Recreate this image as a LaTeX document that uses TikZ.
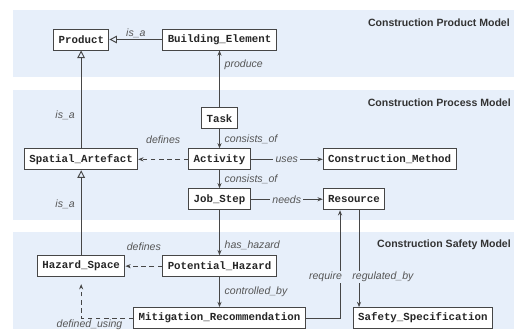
\documentclass[tikz,border=0pt]{standalone}
\usepackage{fontspec}
\newfontfamily\codefont{Liberation Mono}
\newfontfamily\labelfont{Liberation Sans}
\usetikzlibrary{arrows.meta, positioning}
\definecolor{bandblue}{RGB}{231,239,250}
\definecolor{linegray}{RGB}{70,70,70}
\definecolor{labelgray}{RGB}{85,85,85}
\tikzstyle{block} = [rectangle, draw=linegray, line width=0.8pt, fill=white, text=black!85, font=\codefont\bfseries\fontsize{9.2pt}{11pt}\selectfont, inner xsep=4.2pt, inner ysep=0pt, minimum height=17.9pt]
\tikzstyle{rel}  = [line width=0.8pt, linegray, -{Stealth[length=4.5pt, width=3.5pt]}]
\tikzstyle{dep}  = [rel, dash pattern=on 4pt off 3pt]
\tikzstyle{isa}  = [line width=0.8pt, linegray, -{Triangle[open, length=6.5pt, width=6.5pt]}]
\tikzstyle{lbl}  = [text=labelgray, font=\labelfont\itshape\fontsize{9pt}{10pt}\selectfont, inner sep=1pt]
\tikzstyle{onlbl} = [lbl, fill=bandblue, inner xsep=2pt]
\tikzstyle{band} = [fill=bandblue, draw=none]
\tikzstyle{title} = [anchor=east, text=black!80, font=\labelfont\bfseries\fontsize{9pt}{10pt}\selectfont, inner sep=0pt]

\begin{document}
\begin{tikzpicture}[x=0.03cm, y=-0.03cm]

	\useasboundingbox (0,0) rectangle (514,329);

	% Model bands
	\fill[band] (13,10) rectangle (514,77);
	\fill[band] (13,90) rectangle (514,220);
	\fill[band] (13,232) rectangle (514,329);

	\node (product_title) [title] at (510,23) {Construction Product Model};
	\node (process_title) [title] at (511,103) {Construction Process Model};
	\node (safety_title)  [title] at (511,245) {Construction Safety Model};

	% Product model
	\node (building) [block] at (219.5,39.5) {Building\_Element};
	\node (product)  [block, left=1.59cm of building] {Product};

	% Process model
	\node (task)     [block, below=1.71cm of building] {Task};
	\node (activity) [block, below=0.57cm of task] {Activity};
	\node (spatial)  [block, left=1.5cm of activity] {Spatial\_Artefact};
	\node (method)   [block, right=2.16cm of activity] {Construction\_Method};
	\node (jobstep)  [block, below=0.54cm of activity] {Job\_Step};
	\node (resource) [block, right=2.16cm of jobstep] {Resource};

	% Safety model
	\node (hazard)     [block, below=1.35cm of jobstep] {Potential\_Hazard};
	\node (hazspace)   [block, left=1.11cm of hazard] {Hazard\_Space};
	\node (mitigation) [block, below=0.9cm of hazard] {Mitigation\_Recommendation};
	\node (safety)     [block, right=1.41cm of mitigation] {Safety\_Specification};

	% Generalisation
	\draw[isa] (building) -- node[lbl, above] {is\_a} (product);
	\draw[isa] (spatial) -- node[lbl, left=4pt, pos=0.34] {is\_a} (spatial |- product.south);
	\draw[isa] (hazspace) -- node[lbl, left=4pt, pos=0.6] {is\_a} (hazspace |- spatial.south);

	% Relations
	\draw[rel] (task) -- node[lbl, right=3pt, pos=0.75] {produce} (building);
	\draw[rel] (task) -- node[lbl, right=3pt] {consists\_of} (activity);
	\draw[rel] (activity) -- node[lbl, right=3pt] {consists\_of} (jobstep);
	\draw[rel] (activity) -- node[onlbl] {uses} (method);
	\draw[rel] (jobstep) -- node[onlbl] {needs} (resource);
	\draw[rel] (jobstep) -- node[lbl, right=3pt, pos=0.78] {has\_hazard} (hazard);
	\draw[rel] (hazard) -- node[lbl, right=3pt] {controlled\_by} (mitigation);
	\draw[dep] (activity) -- node[lbl, above=12pt] {defines} (spatial);
	\draw[dep] (hazard) -- node[lbl, above=12pt] {defines} (hazspace);
	\draw[dep, shorten >=6pt] (mitigation) -| node[lbl, below, pos=0.42] {defined\_using} (hazspace);
	\draw[rel] (mitigation) -| node[onlbl, anchor=east, xshift=4pt, pos=0.69] {require} ([xshift=-0.42cm]resource.south);
	\draw[rel] ([xshift=0.15cm]resource.south) -- node[onlbl, anchor=west, xshift=-8pt, pos=0.69] {regulated\_by} ([xshift=0.15cm]resource.south |- safety.north);

\end{tikzpicture}
\end{document}
